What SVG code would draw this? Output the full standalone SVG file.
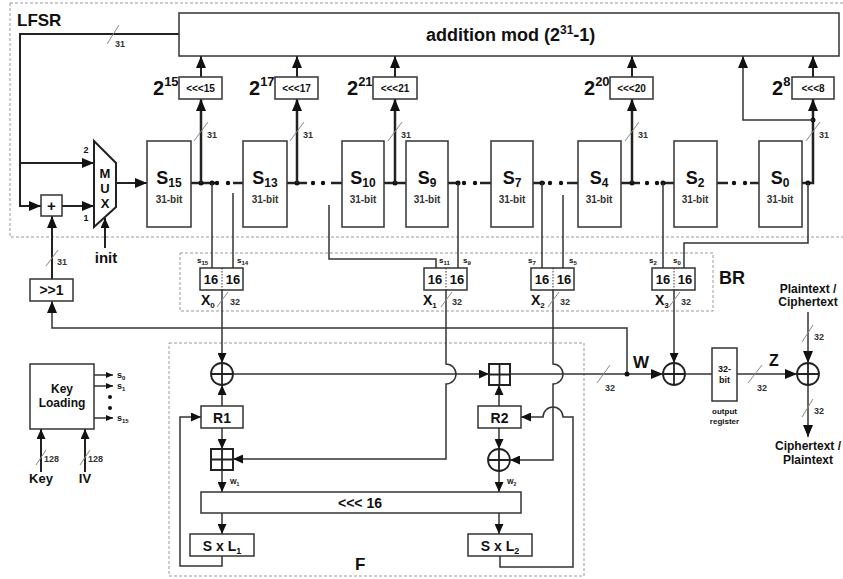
<svg xmlns="http://www.w3.org/2000/svg" width="843" height="579" viewBox="0 0 843 579">
<defs>
<style>
text{font-family:"Liberation Sans",Arial,sans-serif;font-weight:bold;fill:#111}
.box{fill:#fff;stroke:#333;stroke-width:1.5}
.reg{fill:#fff;stroke:#333;stroke-width:1.5}
.dash{fill:none;stroke:#999;stroke-width:1;stroke-dasharray:3,2}
.w{fill:none;stroke:#333;stroke-width:1.5}
.wb{fill:none;stroke:#222;stroke-width:2.5}
.wf{fill:none;stroke:#222;stroke-width:2}
.sl{stroke:#888;stroke-width:1}
.lbl{font-size:9px;fill:#333}
.bit{font-size:10px;fill:#333;text-anchor:middle}
.sh{font-size:10px;text-anchor:middle}
.dot{fill:#111}
.xor{fill:none;stroke:#222;stroke-width:1.8}
</style>
<marker id="aL" markerUnits="userSpaceOnUse" markerWidth="12" markerHeight="10" refX="12" refY="5" orient="auto"><path d="M0,0 L12,5 L0,10 z" fill="#111"/></marker>
<marker id="aM" markerUnits="userSpaceOnUse" markerWidth="10" markerHeight="9" refX="10" refY="4.5" orient="auto"><path d="M0,0 L10,4.5 L0,9 z" fill="#111"/></marker>
<marker id="aS" markerUnits="userSpaceOnUse" markerWidth="7" markerHeight="6" refX="7" refY="3" orient="auto"><path d="M0,0 L7,3 L0,6 z" fill="#111"/></marker>
</defs>
<rect width="843" height="579" fill="#fff"/>

<!-- region boxes -->
<g id="lfsr-region">
<rect class="dash" x="10" y="3" width="840" height="234"/>
<text x="17" y="26" font-size="17">LFSR</text>
</g>
<g id="br-region">
<rect class="dash" x="180" y="253" width="533" height="58"/>
<text x="719" y="284" font-size="18">BR</text>
</g>
<g id="f-region">
<rect class="dash" x="169" y="343" width="415" height="233"/>
<text x="355" y="570" font-size="17">F</text>
</g>

<!-- connectors -->
<g id="connectors">
<!-- LFSR feedback -->
<path class="wf" d="M179,34 H20 V206 H41" marker-end="url(#aL)"/>
<path class="wf" d="M20,163 H94" marker-end="url(#aL)"/>
<line class="sl" x1="107" y1="44" x2="119" y2="25"/>
<text class="lbl" x="115" y="47">31</text>
<path class="wf" d="M62,206 H94" marker-end="url(#aL)"/>
<path class="wf" d="M116,183 H147" marker-end="url(#aL)"/>
<path class="wf" d="M105,248 V218" marker-end="url(#aM)"/>
<path class="wf" d="M52,279 V216" marker-end="url(#aL)"/>
<line class="sl" x1="46" y1="266" x2="58" y2="250"/>
<text class="lbl" x="57" y="265">31</text>
<!-- register chain -->
<path class="wb" d="M191,183 H217"/>
<path class="wb" d="M233,183 H243"/>
<path class="wb" d="M287,183 H307"/>
<path class="wb" d="M331,183 H342"/>
<path class="wb" d="M384,183 H406"/>
<path class="wb" d="M448,183 H460"/>
<path class="wb" d="M480,183 H491"/>
<path class="wb" d="M533,183 H545"/>
<path class="wb" d="M567,183 H578"/>
<path class="wb" d="M621,183 H640"/>
<path class="wb" d="M661,183 H674"/>
<path class="wb" d="M717,183 H728"/>
<path class="wb" d="M750,183 H759"/>
<path class="wb" d="M802,183 H813 V99" marker-end="url(#aL)"/>
<g class="dot">
<circle cx="201" cy="183" r="2.5"/><circle cx="212" cy="183" r="2.5"/><circle cx="217" cy="183" r="2.2"/><circle cx="228" cy="183" r="2.2"/>
<circle cx="297" cy="183" r="2.5"/><circle cx="313" cy="183" r="2.2"/><circle cx="323" cy="183" r="2.2"/>
<circle cx="395" cy="183" r="2.5"/>
<circle cx="458" cy="183" r="2.5"/><circle cx="464" cy="183" r="2.2"/><circle cx="475" cy="183" r="2.2"/>
<circle cx="542" cy="183" r="2.5"/><circle cx="550" cy="183" r="2.2"/><circle cx="561" cy="183" r="2.2"/>
<circle cx="632" cy="183" r="2.5"/><circle cx="647" cy="183" r="2.2"/><circle cx="657" cy="183" r="2.2"/><circle cx="663" cy="183" r="2.5"/>
<circle cx="734" cy="183" r="2.2"/><circle cx="745" cy="183" r="2.2"/>
<circle cx="808" cy="183" r="2.5"/><circle cx="813" cy="120" r="2.5"/>
</g>
<!-- taps up -->
<path class="wb" d="M201,183 V99" marker-end="url(#aL)"/>
<path class="wb" d="M297,183 V99" marker-end="url(#aL)"/>
<path class="wb" d="M395,183 V99" marker-end="url(#aL)"/>
<path class="wb" d="M632,183 V99" marker-end="url(#aL)"/>
<path class="wf" d="M201,77 V56" marker-end="url(#aL)"/>
<path class="wf" d="M297,77 V56" marker-end="url(#aL)"/>
<path class="wf" d="M395,77 V56" marker-end="url(#aL)"/>
<path class="wf" d="M632,77 V56" marker-end="url(#aL)"/>
<path class="wf" d="M813,77 V56" marker-end="url(#aL)"/>
<path class="w" d="M813,120 H743 V56" marker-end="url(#aL)"/>
<line class="sl" x1="194" y1="141" x2="208" y2="122"/><text class="lbl" x="207" y="138">31</text>
<line class="sl" x1="290" y1="141" x2="304" y2="122"/><text class="lbl" x="303" y="138">31</text>
<line class="sl" x1="388" y1="141" x2="402" y2="122"/><text class="lbl" x="401" y="138">31</text>
<line class="sl" x1="625" y1="141" x2="639" y2="122"/><text class="lbl" x="638" y="138">31</text>
<line class="sl" x1="806" y1="141" x2="820" y2="122"/><text class="lbl" x="819" y="138">31</text>
<!-- taps down to BR -->
<path class="w" d="M212,183 V268"/>
<path class="w" d="M233,193 V268"/>
<path class="w" d="M329,205 V259 H436 V268"/>
<path class="w" d="M458,183 V268"/>
<path class="w" d="M542,183 V268"/>
<path class="w" d="M563,195 V268"/>
<path class="w" d="M663,183 V268"/>
<path class="w" d="M808,183 V243 H684 V268"/>
<!-- BR outputs -->
<path class="w" d="M222,290 V363" marker-end="url(#aM)"/>
<path class="w" d="M446,290 V364 A10,10 0 0 1 446,384 V459 H233" marker-end="url(#aM)"/>
<path class="w" d="M553,290 V364 A10,10 0 0 1 553,384 V460 H510" marker-end="url(#aM)"/>
<path class="w" d="M674,290 V363" marker-end="url(#aM)"/>
<line class="sl" x1="217" y1="307" x2="228" y2="292"/><text class="lbl" x="230" y="305">32</text>
<line class="sl" x1="441" y1="307" x2="452" y2="292"/><text class="lbl" x="452" y="305">32</text>
<line class="sl" x1="548" y1="307" x2="559" y2="292"/><text class="lbl" x="560" y="305">32</text>
<line class="sl" x1="669" y1="307" x2="680" y2="292"/><text class="lbl" x="681" y="305">32</text>
<!-- W feedback to >>1 -->
<path class="w" d="M627,374 V328 H52 V301" marker-end="url(#aL)"/>
<!-- F internal -->
<path class="w" d="M233,374 H489" marker-end="url(#aM)"/>
<path class="w" d="M510,374 H663" marker-end="url(#aL)"/>
<circle class="dot" cx="627" cy="374" r="2.5"/>
<line class="sl" x1="597" y1="383" x2="610" y2="365"/><text class="lbl" x="605" y="391">32</text>
<path class="w" d="M222,406 V385" marker-end="url(#aM)"/>
<path class="w" d="M222,428 V449" marker-end="url(#aM)"/>
<path class="w" d="M222,470 V492" marker-end="url(#aM)"/>
<path class="w" d="M222,513 V534" marker-end="url(#aM)"/>
<path class="w" d="M499,406 V385" marker-end="url(#aM)"/>
<path class="w" d="M499,428 V449" marker-end="url(#aM)"/>
<path class="w" d="M499,471 V492" marker-end="url(#aM)"/>
<path class="w" d="M499,513 V534" marker-end="url(#aM)"/>
<path class="w" d="M222,556 V566 H180 V417 H201" marker-end="url(#aM)"/>
<path class="w" d="M500,556 V567 H573 V417 H563 A10,10 0 0 0 543,417 H521" marker-end="url(#aM)"/>
<text x="230" y="484" font-size="7" fill="#333">W<tspan font-size="5" dy="2">1</tspan></text>
<text x="507" y="484" font-size="7" fill="#333">W<tspan font-size="5" dy="2">2</tspan></text>
<!-- output -->
<path class="w" d="M685,374 H712"/>
<path class="w" d="M737,374 H797" marker-end="url(#aL)"/>
<line class="sl" x1="748" y1="383" x2="762" y2="365"/><text class="lbl" x="757" y="391">32</text>
<path class="w" d="M808,312 V363" marker-end="url(#aL)"/>
<line class="sl" x1="802" y1="342" x2="813" y2="325"/><text class="lbl" x="814" y="340">32</text>
<path class="w" d="M808,385 V437" marker-end="url(#aL)"/>
<line class="sl" x1="802" y1="417" x2="813" y2="399"/><text class="lbl" x="814" y="414">32</text>
<!-- key loading -->
<path class="w" d="M94,375 H113" marker-end="url(#aS)"/>
<path class="w" d="M94,386 H113" marker-end="url(#aS)"/>
<path class="w" d="M94,418 H113" marker-end="url(#aS)"/>
<circle class="dot" cx="110" cy="397" r="2"/><circle class="dot" cx="110" cy="408" r="2"/>
<path class="wf" d="M41,472 V429" marker-end="url(#aM)"/>
<path class="wf" d="M85,472 V429" marker-end="url(#aM)"/>
<line class="sl" x1="36" y1="465" x2="46" y2="450"/><text class="lbl" x="44" y="462">128</text>
<line class="sl" x1="80" y1="465" x2="90" y2="450"/><text class="lbl" x="88" y="462">128</text>
</g>

<!-- LFSR nodes -->
<g id="addmod">
<rect class="box" x="179" y="13" width="660" height="43"/>
<text x="426" y="41" font-size="18">addition mod (2<tspan font-size="12" dy="-7">31</tspan><tspan dy="7">-1)</tspan></text>
</g>
<g id="plus"><rect class="box" x="41" y="195" width="21" height="21"/><text x="51.5" y="211" font-size="15" text-anchor="middle">+</text></g>
<g id="mux">
<polygon points="94,141 116,163 116,207 94,227" fill="#fff" stroke="#222" stroke-width="2"/>
<text x="105" y="178" font-size="13" text-anchor="middle">M</text>
<text x="105" y="193" font-size="13" text-anchor="middle">U</text>
<text x="105" y="208" font-size="13" text-anchor="middle">X</text>
<text x="86" y="153" font-size="9" text-anchor="middle">2</text>
<text x="86" y="221" font-size="9" text-anchor="middle">1</text>
</g>
<g id="init"><text x="106" y="263" font-size="15" text-anchor="middle">init</text></g>
<g id="shr1"><rect class="box" x="30" y="279" width="43" height="22"/><text x="51.5" y="295" font-size="14" text-anchor="middle">&gt;&gt;1</text></g>

<g id="S15"><rect class="reg" x="147" y="141" width="44" height="86"/><text x="169" y="184" text-anchor="middle" font-size="18">S<tspan font-size="12" dy="3">15</tspan></text><text class="bit" x="169" y="203">31-bit</text></g>
<g id="S13"><rect class="reg" x="243" y="141" width="44" height="86"/><text x="265" y="184" text-anchor="middle" font-size="18">S<tspan font-size="12" dy="3">13</tspan></text><text class="bit" x="265" y="203">31-bit</text></g>
<g id="S10"><rect class="reg" x="342" y="141" width="42" height="86"/><text x="363" y="184" text-anchor="middle" font-size="18">S<tspan font-size="12" dy="3">10</tspan></text><text class="bit" x="363" y="203">31-bit</text></g>
<g id="S9"><rect class="reg" x="406" y="141" width="42" height="86"/><text x="427" y="184" text-anchor="middle" font-size="18">S<tspan font-size="12" dy="3">9</tspan></text><text class="bit" x="427" y="203">31-bit</text></g>
<g id="S7"><rect class="reg" x="491" y="141" width="42" height="86"/><text x="512" y="184" text-anchor="middle" font-size="18">S<tspan font-size="12" dy="3">7</tspan></text><text class="bit" x="512" y="203">31-bit</text></g>
<g id="S4"><rect class="reg" x="578" y="141" width="43" height="86"/><text x="599" y="184" text-anchor="middle" font-size="18">S<tspan font-size="12" dy="3">4</tspan></text><text class="bit" x="599" y="203">31-bit</text></g>
<g id="S2"><rect class="reg" x="674" y="141" width="43" height="86"/><text x="695" y="184" text-anchor="middle" font-size="18">S<tspan font-size="12" dy="3">2</tspan></text><text class="bit" x="695" y="203">31-bit</text></g>
<g id="S0"><rect class="reg" x="759" y="141" width="43" height="86"/><text x="780" y="184" text-anchor="middle" font-size="18">S<tspan font-size="12" dy="3">0</tspan></text><text class="bit" x="780" y="203">31-bit</text></g>

<g id="rot15"><rect class="box" x="179" y="77" width="43" height="22"/><text class="sh" x="200.5" y="92">&lt;&lt;&lt;15</text><text x="153" y="95" font-size="20">2<tspan font-size="13" dy="-9">15</tspan></text></g>
<g id="rot17"><rect class="box" x="275" y="77" width="43" height="22"/><text class="sh" x="296.5" y="92">&lt;&lt;&lt;17</text><text x="249" y="95" font-size="20">2<tspan font-size="13" dy="-9">17</tspan></text></g>
<g id="rot21"><rect class="box" x="373" y="77" width="44" height="22"/><text class="sh" x="395" y="92">&lt;&lt;&lt;21</text><text x="347" y="95" font-size="20">2<tspan font-size="13" dy="-9">21</tspan></text></g>
<g id="rot20"><rect class="box" x="610" y="77" width="43" height="22"/><text class="sh" x="631.5" y="92">&lt;&lt;&lt;20</text><text x="584" y="95" font-size="20">2<tspan font-size="13" dy="-9">20</tspan></text></g>
<g id="rot8"><rect class="box" x="792" y="77" width="42" height="22"/><text class="sh" x="813" y="92">&lt;&lt;&lt;8</text><text x="772" y="95" font-size="20">2<tspan font-size="13" dy="-9">8</tspan></text></g>

<!-- BR nodes -->
<g id="X0">
<rect class="box" x="200" y="268" width="43" height="22"/><line x1="222" y1="268" x2="222" y2="290" stroke="#333" stroke-dasharray="1.5,1.5"/>
<text x="211" y="284" font-size="13" text-anchor="middle">16</text><text x="233" y="284" font-size="13" text-anchor="middle">16</text>
<text x="197" y="263" font-size="8" fill="#333">s<tspan font-size="6" dy="2">15</tspan></text><text x="237" y="263" font-size="8" fill="#333">s<tspan font-size="6" dy="2">14</tspan></text>
<text x="201" y="305" font-size="14">X<tspan font-size="8" dy="3">0</tspan></text>
</g>
<g id="X1">
<rect class="box" x="424" y="268" width="43" height="22"/><line x1="446" y1="268" x2="446" y2="290" stroke="#333" stroke-dasharray="1.5,1.5"/>
<text x="435" y="284" font-size="13" text-anchor="middle">16</text><text x="457" y="284" font-size="13" text-anchor="middle">16</text>
<text x="439" y="263" font-size="8" fill="#333">s<tspan font-size="6" dy="2">11</tspan></text><text x="463" y="263" font-size="8" fill="#333">s<tspan font-size="6" dy="2">9</tspan></text>
<text x="423" y="305" font-size="14">X<tspan font-size="8" dy="3">1</tspan></text>
</g>
<g id="X2">
<rect class="box" x="531" y="268" width="43" height="22"/><line x1="553" y1="268" x2="553" y2="290" stroke="#333" stroke-dasharray="1.5,1.5"/>
<text x="542" y="284" font-size="13" text-anchor="middle">16</text><text x="564" y="284" font-size="13" text-anchor="middle">16</text>
<text x="528" y="263" font-size="8" fill="#333">s<tspan font-size="6" dy="2">7</tspan></text><text x="569" y="263" font-size="8" fill="#333">s<tspan font-size="6" dy="2">5</tspan></text>
<text x="531" y="305" font-size="14">X<tspan font-size="8" dy="3">2</tspan></text>
</g>
<g id="X3">
<rect class="box" x="652" y="268" width="43" height="22"/><line x1="674" y1="268" x2="674" y2="290" stroke="#333" stroke-dasharray="1.5,1.5"/>
<text x="663" y="284" font-size="13" text-anchor="middle">16</text><text x="685" y="284" font-size="13" text-anchor="middle">16</text>
<text x="649" y="263" font-size="8" fill="#333">s<tspan font-size="6" dy="2">2</tspan></text><text x="673" y="263" font-size="8" fill="#333">s<tspan font-size="6" dy="2">0</tspan></text>
<text x="655" y="305" font-size="14">X<tspan font-size="8" dy="3">3</tspan></text>
</g>

<!-- F nodes -->
<g id="xor1"><circle class="xor" cx="222" cy="374" r="11" fill="#fff"/><path class="xor" d="M211,374 H233 M222,363 V385"/></g>
<g id="add2"><rect x="489" y="364" width="21" height="21" fill="#fff" stroke="#222" stroke-width="2"/><path class="xor" d="M489,374.5 H510 M499.5,364 V385"/></g>
<g id="R1"><rect class="box" x="201" y="406" width="42" height="22"/><text x="222" y="423" font-size="14" text-anchor="middle">R1</text></g>
<g id="R2"><rect class="box" x="478" y="406" width="43" height="22"/><text x="499.5" y="423" font-size="14" text-anchor="middle">R2</text></g>
<g id="add1"><rect x="211" y="449" width="22" height="21" fill="#fff" stroke="#222" stroke-width="2"/><path class="xor" d="M211,459.5 H233 M222,449 V470"/></g>
<g id="xor2"><circle class="xor" cx="499" cy="460" r="11" fill="#fff"/><path class="xor" d="M488,460 H510 M499,449 V471"/></g>
<g id="rot16"><rect class="box" x="201" y="492" width="320" height="21"/><text x="360" y="508" font-size="14" text-anchor="middle">&lt;&lt;&lt; 16</text></g>
<g id="SL1"><rect class="box" x="190" y="534" width="64" height="22"/><text x="222" y="551" font-size="14" text-anchor="middle">S x L<tspan font-size="9" dy="3">1</tspan></text></g>
<g id="SL2"><rect class="box" x="468" y="534" width="64" height="22"/><text x="500" y="551" font-size="14" text-anchor="middle">S x L<tspan font-size="9" dy="3">2</tspan></text></g>

<!-- output nodes -->
<g id="W"><text x="633" y="368" font-size="17">W</text></g>
<g id="xor3"><circle class="xor" cx="674" cy="374" r="11" fill="#fff"/><path class="xor" d="M663,374 H685 M674,363 V385"/></g>
<g id="outreg">
<rect class="box" x="712" y="348" width="25" height="53"/>
<text x="724.5" y="372" font-size="9" text-anchor="middle" fill="#333">32-</text>
<text x="724.5" y="383" font-size="9" text-anchor="middle" fill="#333">bit</text>
<text x="724.5" y="414" font-size="8" text-anchor="middle" fill="#333">output</text>
<text x="724.5" y="424" font-size="8" text-anchor="middle" fill="#333">register</text>
</g>
<g id="Z"><text x="769" y="366" font-size="16">Z</text></g>
<g id="xor4"><circle class="xor" cx="808" cy="374" r="11" fill="#fff"/><path class="xor" d="M797,374 H819 M808,363 V385"/></g>
<g id="ptin"><text x="808" y="293" font-size="12" text-anchor="middle">Plaintext /</text><text x="808" y="306" font-size="12" text-anchor="middle">Ciphertext</text></g>
<g id="ctout"><text x="808" y="450" font-size="12" text-anchor="middle">Ciphertext /</text><text x="808" y="464" font-size="12" text-anchor="middle">Plaintext</text></g>

<!-- key loading -->
<g id="keyload">
<rect class="box" x="30" y="364" width="64" height="65"/>
<text x="62" y="393" font-size="12" text-anchor="middle">Key</text>
<text x="62" y="407" font-size="12" text-anchor="middle">Loading</text>
<text x="117" y="378" font-size="9">s<tspan font-size="6" dy="2">0</tspan></text>
<text x="117" y="389" font-size="9">s<tspan font-size="6" dy="2">1</tspan></text>
<text x="117" y="421" font-size="9">s<tspan font-size="6" dy="2">15</tspan></text>
</g>
<g id="key"><text x="41" y="483" font-size="13" text-anchor="middle">Key</text></g>
<g id="iv"><text x="85" y="483" font-size="13" text-anchor="middle">IV</text></g>
</svg>
